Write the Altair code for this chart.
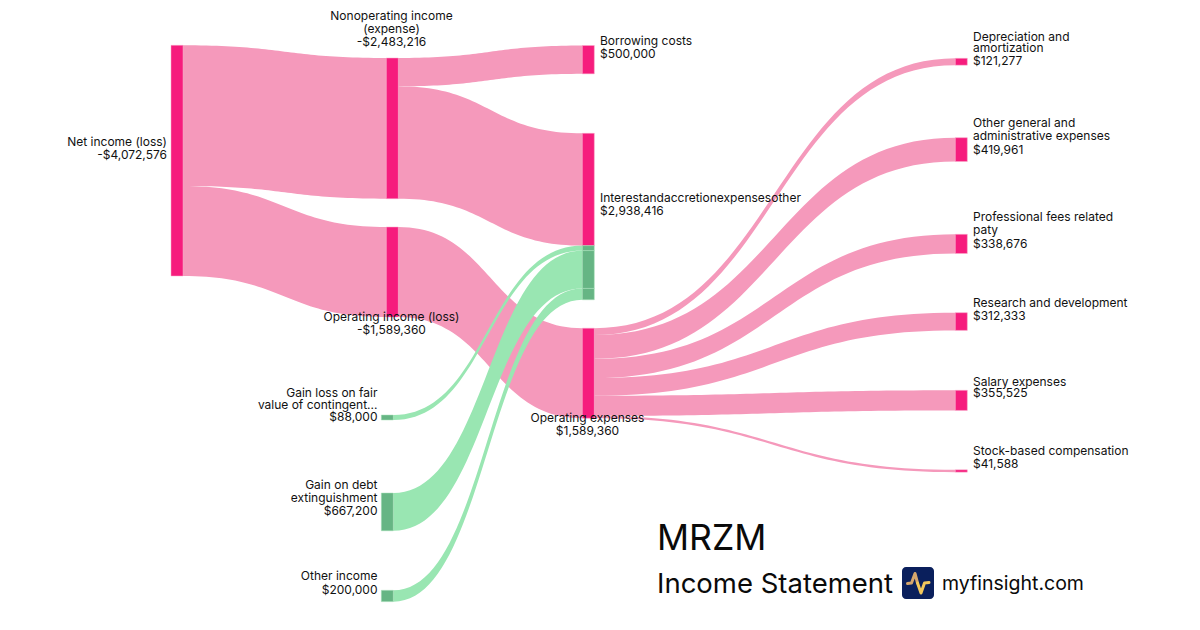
import altair as alt
import pandas as pd

# ---- data ----
node_names = ["Net income (loss)", "Nonoperating income (expense)", "Operating income (loss)",
              "Borrowing costs", "Interestandaccretionexpensesother", "Operating expenses",
              "Gain loss on fair value of contingent...", "Gain on debt extinguishment", "Other income",
              "Depreciation and amortization", "Other general and administrative expenses",
              "Professional fees related paty", "Research and development", "Salary expenses",
              "Stock-based compensation"]
link_source = [0, 0, 1, 1, 2, 6, 7, 8, 5, 5, 5, 5, 5, 5]
link_target = [1, 2, 3, 4, 5, 4, 4, 4, 9, 10, 11, 12, 13, 14]
link_value = [2483216, 1589360, 500000, 1983216, 1589360, 88000, 667200, 200000,
              121277, 419961, 338676, 312333, 355525, 41588]

# ---- layout (page pixels) ----
node_left = [171, 386.3, 386.3, 582.3, 582.3, 582.3, 381.3, 381.3, 381.3,
             955.3, 955.3, 955.3, 955.3, 955.3, 955.3]
node_top = [45.3, 58, 227, 45.5, 133.3, 328.2, 415, 493, 590.3,
            58.3, 137.7, 234.3, 312.7, 390.3, 469.8]
NODE_W = 12
PX_PER_DOLLAR = 230.7 / 4072576
CURVE_STEPS = 48

PINK_LINK, PINK_NODE = "#f599bb", "#f61c7d"
GREEN_LINK, GREEN_NODE = "#99e6b2", "#66b584"
INK = "#111111"

label_rows = [
    ("Net income (loss)", 167, 141.5, "right"), ("-$4,072,576", 167, 154.5, "right"),
    ("Nonoperating income", 391.5, 16, "center"), ("(expense)", 391.5, 29, "center"), ("-$2,483,216", 391.5, 42, "center"),
    ("Operating income (loss)", 391.5, 316.5, "center"), ("-$1,589,360", 391.5, 330, "center"),
    ("Gain loss on fair", 377.5, 392.5, "right"), ("value of contingent...", 377.5, 404.5, "right"), ("$88,000", 377.5, 417, "right"),
    ("Gain on debt", 377.5, 484.5, "right"), ("extinguishment", 377.5, 497.5, "right"), ("$667,200", 377.5, 510.5, "right"),
    ("Other income", 377.5, 576, "right"), ("$200,000", 377.5, 590, "right"),
    ("Borrowing costs", 600, 41, "left"), ("$500,000", 600, 54, "left"),
    ("Interestandaccretionexpensesother", 600, 197.5, "left"), ("$2,938,416", 600, 210.5, "left"),
    ("Operating expenses", 587.5, 417.5, "center"), ("$1,589,360", 587.5, 431, "center"),
    ("Depreciation and", 973, 36.5, "left"), ("amortization", 973, 47.5, "left"), ("$121,277", 973, 61, "left"),
    ("Other general and", 973, 122.5, "left"), ("administrative expenses", 973, 135.5, "left"), ("$419,961", 973, 150, "left"),
    ("Professional fees related", 973, 216.5, "left"), ("paty", 973, 229.5, "left"), ("$338,676", 973, 244, "left"),
    ("Research and development", 973, 302.5, "left"), ("$312,333", 973, 316, "left"),
    ("Salary expenses", 973, 381.5, "left"), ("$355,525", 973, 393, "left"),
    ("Stock-based compensation", 973, 450.5, "left"), ("$41,588", 973, 464, "left"),
]

# ---- build link bands and node segments ----
src_used = [0.0] * len(node_names)
dst_used = [0.0] * len(node_names)
link_rows, seg_rows = [], []
for i, (s, t, v) in enumerate(zip(link_source, link_target, link_value)):
    h = v * PX_PER_DOLLAR
    y0 = node_top[s] + src_used[s]
    y1 = node_top[t] + dst_used[t]
    src_used[s] += h
    dst_used[t] += h
    x0, x1 = node_left[s] + NODE_W, node_left[t]
    xm = (x0 + x1) / 2
    green = s in (6, 7, 8)
    for k in range(CURVE_STEPS + 1):
        u = k / CURVE_STEPS
        a, b = (1 - u) ** 3, 3 * (1 - u) ** 2 * u
        c, d = 3 * (1 - u) * u ** 2, u ** 3
        x = a * x0 + (b + c) * xm + d * x1
        y = (a + b) * y0 + (c + d) * y1
        link_rows.append({"link": i, "x": x, "y": y, "y2": y + h, "kind": "green" if green else "pink"})
    if green:
        seg_rows.append({"x": node_left[t], "x2": node_left[t] + NODE_W, "y": y1, "y2": y1 + h, "kind": "green"})

for n in range(len(node_names)):
    if n in (6, 7, 8):
        kind = "green"
    else:
        kind = "pink"
    total = max(src_used[n], dst_used[n])
    if n == 4:
        total = 1983216 * PX_PER_DOLLAR
    seg_rows.append({"x": node_left[n], "x2": node_left[n] + NODE_W, "y": node_top[n], "y2": node_top[n] + total, "kind": kind})

links = pd.DataFrame(link_rows)
segs = pd.DataFrame(seg_rows)
labels = pd.DataFrame(label_rows, columns=["text", "x", "y", "align"])

X = alt.X("x:Q", scale=alt.Scale(domain=[8, 1192]), axis=None)
Y = alt.Y("y:Q", scale=alt.Scale(domain=[622, 8]), axis=None)


def band(kind, colour):
    return alt.Chart(links[links.kind == kind]).mark_area(color=colour, clip=False, interpolate="linear").encode(
        X, Y, y2="y2:Q", detail="link:N")


def node_layer(kind, fill, edge):
    return alt.Chart(segs[segs.kind == kind]).mark_rect(fill=fill, stroke=edge, strokeWidth=0.5).encode(
        X, x2="x2:Q", y=Y, y2="y2:Q")


def text_layer(align):
    return alt.Chart(labels[labels["align"] == align]).mark_text(
        font="Inter", fontSize=12, color=INK, align=align, baseline="middle").encode(X, Y, text="text:N")


# ---- footer: title, subtitle, logo ----
titles = pd.DataFrame([
    {"text": "MRZM", "x": 657, "y": 550, "size": 35.5},
    {"text": "Income Statement", "x": 657, "y": 593, "size": 27.5},
    {"text": "myfinsight.com", "x": 942, "y": 590, "size": 19.5},
])
title_layer = alt.Chart(titles).mark_text(font="Inter", color="#0a0a0a", align="left", baseline="alphabetic").encode(
    X, Y, text="text:N", size=alt.Size("size:Q", scale=None, legend=None))

logo_box = pd.DataFrame([{"x": 902, "x2": 934, "y": 567, "y2": 599}])
logo_bg = alt.Chart(logo_box).mark_rect(fill="#0a1f5c", cornerRadius=4).encode(X, x2="x2:Q", y=Y, y2="y2:Q")
pulse_left = pd.DataFrame({"x": [907.5, 911.5, 915, 917.5], "y": [583.5, 583, 573.5, 583]})
pulse_right = pd.DataFrame({"x": [917.5, 921, 924.5, 929], "y": [583, 593, 583, 582.5]})
pulse = (alt.Chart(pulse_left).mark_line(color="#d6a66c", strokeWidth=3, strokeCap="round", strokeJoin="round").encode(X, Y, order="x:Q")
         + alt.Chart(pulse_right).mark_line(color="#f2c75c", strokeWidth=3, strokeCap="round", strokeJoin="round").encode(X, Y, order="x:Q"))

chart = alt.layer(
    band("pink", PINK_LINK),
    band("green", GREEN_LINK),
    node_layer("pink", PINK_NODE, "#f8a9c8"),
    node_layer("green", GREEN_NODE, "#a8e3bb"),
    text_layer("left"), text_layer("right"), text_layer("center"),
    title_layer, logo_bg, pulse,
).properties(
    width=1184, height=614, padding=0,
    autosize=alt.AutoSizeParams(type="none"),
    background="white",
).configure_view(stroke=None)

chart.save("out.html", embed_options={"renderer": "svg", "actions": False})
